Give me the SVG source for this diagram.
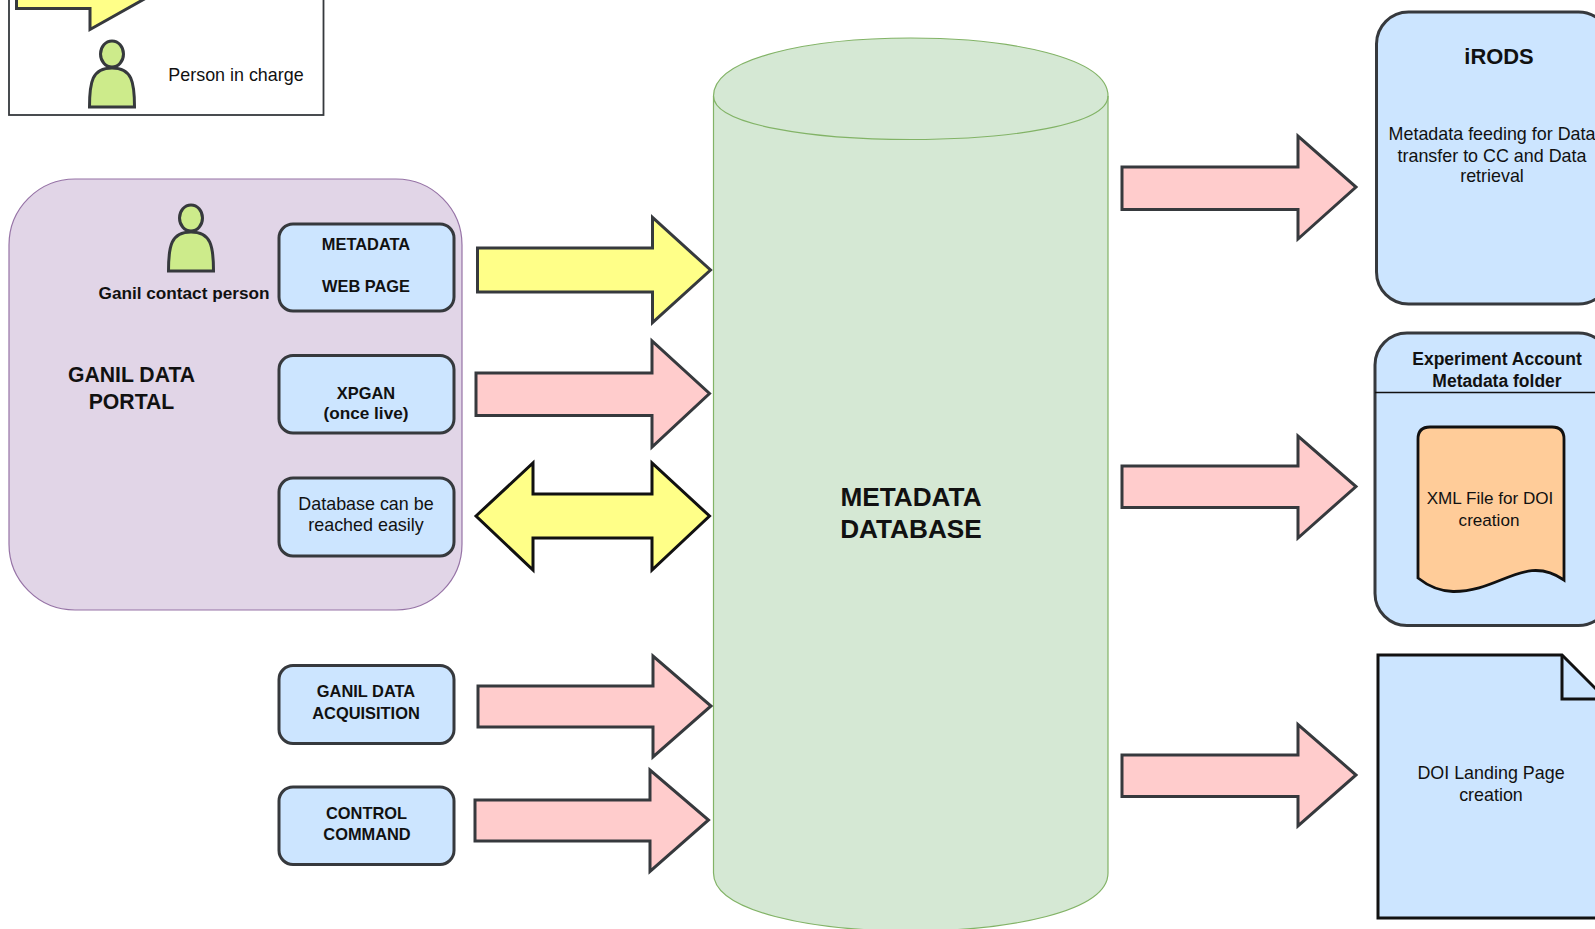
<svg xmlns="http://www.w3.org/2000/svg" xmlns:xlink="http://www.w3.org/1999/xlink" width="1595" height="929" viewBox="0 0 1595 929">
<style>
text{font-family:"Liberation Sans",Arial,sans-serif;font-size:17.9px;fill:#111;text-anchor:middle}
.b{font-weight:bold;font-size:17.2px}
.c{font-weight:bold;font-size:16.4px}
.blue{fill:#cce5ff;stroke:#36393d;stroke-width:3}
.arrow{stroke:#36393d;stroke-width:3;stroke-miterlimit:10}
.pink{fill:#ffcccc}
.yellow{fill:#ffff88}
.black{stroke:#111}
.person{fill:#cdeb8b;stroke:#36393d;stroke-width:3}
</style>
<defs>
<g id="person">
<path class="person" d="M-22.5,53 C-22.5,28 -20,14 0,14 C20,14 22.5,28 22.5,53 Z"/>
<ellipse class="person" cx="0" cy="0" rx="11.5" ry="13"/>
</g>
</defs>
<rect width="1595" height="929" fill="#fff"/>
<g id="legend">
<rect x="9" y="-20" width="314.500" height="135" fill="#fff" stroke="#36393d" stroke-width="1.800"/>
<polygon class="arrow yellow" points="16.500,-30 16.500,8.500 90,8.500 90,29.500 196,-30"/>
<use xlink:href="#person" x="112" y="54"/>
<text x="236" y="81">Person in charge</text>
</g>
<g id="ganil-data-portal">
<rect x="9" y="179" width="453" height="431" rx="66" fill="#e1d5e7" stroke="#9673a6" stroke-width="1.200"/>
<text class="b" x="131.500" y="382" style="font-size:21.200px">GANIL DATA</text>
<text class="b" x="131.500" y="409" style="font-size:21.200px">PORTAL</text>
</g>
<g id="ganil-contact-person">
<use xlink:href="#person" x="191" y="218"/>
<text class="b" x="184" y="299">Ganil contact person</text>
</g>
<g id="metadata-web-page">
<rect class="blue" x="279" y="224" width="175" height="87" rx="14"/>
<text class="c" x="366" y="250">METADATA</text>
<text class="c" x="366" y="292">WEB PAGE</text>
</g>
<g id="xpgan">
<rect class="blue" x="279" y="355.500" width="175" height="77.500" rx="14"/>
<text class="c" x="366" y="399">XPGAN</text>
<text class="b" x="366" y="419">(once live)</text>
</g>
<g id="database-reach">
<rect class="blue" x="279" y="478" width="175" height="78" rx="14"/>
<text x="366" y="509.500">Database can be</text>
<text x="366" y="531">reached easily</text>
</g>
<g id="ganil-data-acquisition">
<rect class="blue" x="279" y="665.500" width="175" height="78" rx="14"/>
<text class="c" x="366" y="697">GANIL DATA</text>
<text class="c" x="366" y="719">ACQUISITION</text>
</g>
<g id="control-command">
<rect class="blue" x="279" y="787" width="175" height="77.500" rx="14"/>
<text class="c" x="366.500" y="818.500">CONTROL</text>
<text class="c" x="367" y="840">COMMAND</text>
</g>
<g id="metadata-database">
<path d="M713.500,96 C713.500,18.700 1108,18.700 1108,96 L1108,873 C1108,950.300 713.500,950.300 713.500,873 Z" fill="#d5e8d4" stroke="#82b366" stroke-width="1.200"/>
<path d="M713.500,96 C713.500,154 1108,154 1108,96" fill="none" stroke="#82b366" stroke-width="1.200"/>
<text class="b" x="911" y="506" style="font-size:26.200px">METADATA</text>
<text class="b" x="911" y="538" style="font-size:26.200px">DATABASE</text>
</g>
<g id="irods">
<rect class="blue" x="1376.500" y="12" width="234" height="292" rx="32"/>
<text class="b" x="1499" y="63.500" style="font-size:21.900px">iRODS</text>
<text x="1492" y="140">Metadata feeding for Data</text>
<text x="1492" y="161.500">transfer to CC and Data</text>
<text x="1492" y="182">retrieval</text>
</g>
<g id="experiment-account">
<rect class="blue" x="1375" y="333" width="235.500" height="292.500" rx="32"/>
<line x1="1375" y1="392.500" x2="1610" y2="392.500" stroke="#111" stroke-width="1.500"/>
<text class="b" x="1497" y="365" style="font-size:17.500px">Experiment Account</text>
<text class="b" x="1497" y="387" style="font-size:17.500px">Metadata folder</text>
</g>
<g id="xml-file">
<path d="M1418,578 L1418,439 Q1418,427 1430,427 L1552,427 Q1564,427 1564,439 L1564,580 C1525,553 1500,592 1453,591.500 C1438,591 1428,586 1418,578 Z" fill="#ffcc99" stroke="#111" stroke-width="2.800"/>
<text x="1490" y="504" style="font-size:17.100px">XML File for DOI</text>
<text x="1489" y="525.500" style="font-size:17.100px">creation</text>
</g>
<g id="doi-landing-page">
<path d="M1378,655 L1562,655 L1606,699 L1606,918 L1378,918 Z" fill="#cce5ff" stroke="#111" stroke-width="3"/>
<path d="M1562,655 L1562,699 L1606,699" fill="none" stroke="#111" stroke-width="3"/>
<text x="1491" y="778.500">DOI Landing Page</text>
<text x="1491" y="800.500">creation</text>
</g>
<g id="connectors">
<polygon class="arrow yellow" points="477.500,248 652.500,248 652.500,217.500 710.500,270 652.500,322.500 652.500,292 477.500,292"/>
<polygon class="arrow pink" points="476,373 652,373 652,341 709.500,393.500 652,447 652,415.500 476,415.500"/>
<polygon class="arrow yellow black" points="476,516 533,463 533,494 652,494 652,463 709.500,516 652,570 652,538 533,538 533,570"/>
<polygon class="arrow pink" points="478,686 653,686 653,656 711,706 653,757 653,727 478,727"/>
<polygon class="arrow pink" points="475,800 650,800 650,770 708.500,820 650,871.500 650,841 475,841"/>
<polygon class="arrow pink" points="1122,167 1298,167 1298,136 1356,187 1298,239 1298,209.500 1122,209.500"/>
<polygon class="arrow pink" points="1122,466 1298,466 1298,436 1356,486.500 1298,538 1298,507.500 1122,507.500"/>
<polygon class="arrow pink" points="1122,755 1298,755 1298,724.500 1356,775 1298,826 1298,796.500 1122,796.500"/>
</g>
</svg>
